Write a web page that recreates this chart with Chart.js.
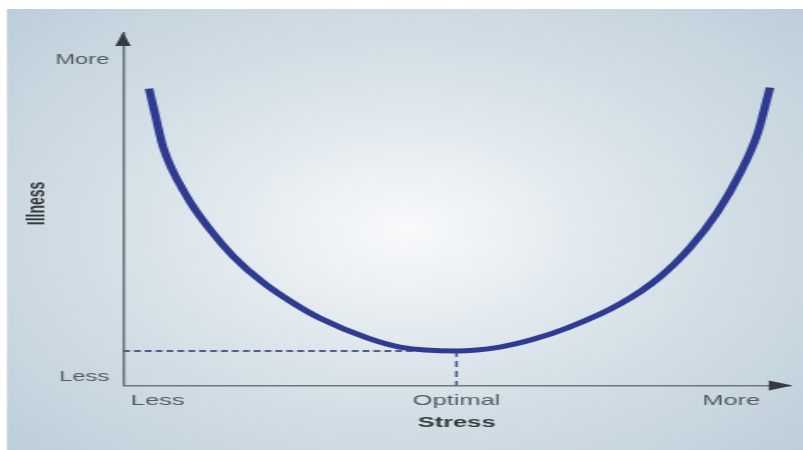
<!DOCTYPE html>
<html>
<head>
<meta charset="utf-8">
<script src="https://cdn.jsdelivr.net/npm/chart.js@4.4.1/dist/chart.umd.min.js"></script>
<style>
  html, body { margin: 0; padding: 0; background: #ffffff; overflow: hidden; }
  #c { display: block; width: 803px; height: 450px; }
</style>
</head>
<body>
<canvas id="c" width="472" height="450" style="width:803px;height:450px;"></canvas>
<script>
// ---- data (stress 0..10, illness 0..10) ----
const stressX   = [0.39, 0.49, 0.60, 0.96, 1.31, 1.65, 2.10, 2.55, 2.95, 3.66, 4.15, 5.00, 5.65, 6.15, 6.66, 7.45, 8.05, 8.50, 8.91, 9.25, 9.51, 9.60, 9.70];
const illnessY  = [8.42, 7.62, 6.77, 5.35, 4.41, 3.67, 2.92, 2.34, 1.91, 1.35, 1.09, 0.98, 1.09, 1.31, 1.63, 2.31, 3.08, 3.91, 4.91, 6.02, 7.13, 7.73, 8.45];
const optimalStress  = 5.0;
const optimalIllness = 0.98;
const xTickValues = [0.52, 5.0, 9.12];
const xTickLabels = ['Less', 'Optimal', 'More'];
const yTickValues = [0.25, 9.24];
const yTickLabels = ['Less', 'More'];
const xTitle = 'Stress';
const yTitle = '   Illness';

// canvas is drawn narrower and stretched horizontally like the reference image
const S = 803 / 472;
const FONT = "'Liberation Sans', Arial, Helvetica, sans-serif";

const curve = stressX.map((x, i) => ({ x: x, y: illnessY[i] }));
const hDash = [{ x: 0, y: optimalIllness }, { x: optimalStress, y: optimalIllness }];
const vDash = [{ x: optimalStress, y: optimalIllness }, { x: optimalStress, y: 0 }];

const bgPlugin = {
  id: 'bg',
  beforeDraw(chart) {
    const ctx = chart.ctx;
    const w = chart.width, h = chart.height;
    ctx.save();
    ctx.fillStyle = '#ffffff';
    ctx.fillRect(0, 0, w, h);
    const cx = 405 / S, cy = 230;
    const g = ctx.createRadialGradient(cx, cy, 0, cx, cy, 330);
    g.addColorStop(0, '#f8fafb');
    g.addColorStop(0.15, '#eef2f5');
    g.addColorStop(0.5, '#d6e1e8');
    g.addColorStop(1, '#bccdd8');
    ctx.fillStyle = g;
    ctx.fillRect(7 / S, 9, w - 7 / S, h - 9);
    ctx.restore();
  }
};

const arrowPlugin = {
  id: 'arrows',
  afterDraw(chart) {
    const ctx = chart.ctx;
    const a = chart.chartArea;
    ctx.save();
    ctx.fillStyle = '#333a44';
    // y-axis arrow (up)
    ctx.beginPath();
    ctx.moveTo(a.left, a.top - 1);
    ctx.lineTo(a.left - 4.5, a.top + 13);
    ctx.lineTo(a.left + 4.5, a.top + 13);
    ctx.closePath();
    ctx.fill();
    // x-axis arrow (right)
    ctx.beginPath();
    ctx.moveTo(a.right + 1.5, a.bottom);
    ctx.lineTo(a.right + 1.5 - 14, a.bottom - 5);
    ctx.lineTo(a.right + 1.5 - 14, a.bottom + 5);
    ctx.closePath();
    ctx.fill();
    ctx.restore();
  }
};

new Chart(document.getElementById('c'), {
  type: 'line',
  data: {
    datasets: [
      {
        data: curve,
        borderColor: '#2e3b90',
        borderWidth: 5,
        pointRadius: 0,
        tension: 0.4,
        cubicInterpolationMode: 'monotone',
        borderCapStyle: 'butt',
        fill: false
      },
      {
        data: hDash,
        borderColor: '#4f5d85',
        borderWidth: 2,
        borderDash: [4, 2.4],
        pointRadius: 0,
        fill: false
      },
      {
        data: vDash,
        borderColor: '#4f5d85',
        borderWidth: 1.6,
        borderDash: [6, 4],
        pointRadius: 0,
        fill: false
      }
    ]
  },
  options: {
    responsive: false,
    animation: false,
    devicePixelRatio: 1,
    layout: { padding: { left: 0, right: 472 - 790 / S, top: 33, bottom: 0 } },
    plugins: { legend: { display: false }, tooltip: { enabled: false } },
    scales: {
      x: {
        type: 'linear',
        min: 0,
        max: 10,
        grid: { display: false, drawTicks: false },
        border: { display: true, color: '#6d7780', width: 1.5 },
        afterBuildTicks(scale) { scale.ticks = xTickValues.map(v => ({ value: v })); },
        afterFit(scale) { scale.height = 450 - 385.5; },
        ticks: {
          autoSkip: false,
          maxRotation: 0,
          padding: 6,
          color: '#555b62',
          font: { family: FONT, size: 15 },
          callback: (v, i) => xTickLabels[i]
        },
        title: {
          display: true,
          text: xTitle,
          color: '#343a40',
          font: { family: FONT, size: 15, weight: 'bold' },
          padding: { top: 0, bottom: 18.5 }
        }
      },
      y: {
        type: 'linear',
        min: 0,
        max: 10,
        grid: { display: false, drawTicks: false },
        border: { display: true, color: '#6d7780', width: 1.5 },
        afterBuildTicks(scale) { scale.ticks = yTickValues.map(v => ({ value: v })); },
        afterFit(scale) { scale.width = 123 / S; },
        ticks: {
          autoSkip: false,
          padding: 8,
          color: '#555b62',
          font: { family: FONT, size: 14 },
          callback: (v, i) => yTickLabels[i]
        },
        title: {
          display: true,
          text: yTitle,
          color: '#343a40',
          font: { family: FONT, size: 14, weight: 'bold' },
          padding: { top: 14, bottom: 0 }
        }
      }
    }
  },
  plugins: [bgPlugin, arrowPlugin]
});
</script>
</body>
</html>
